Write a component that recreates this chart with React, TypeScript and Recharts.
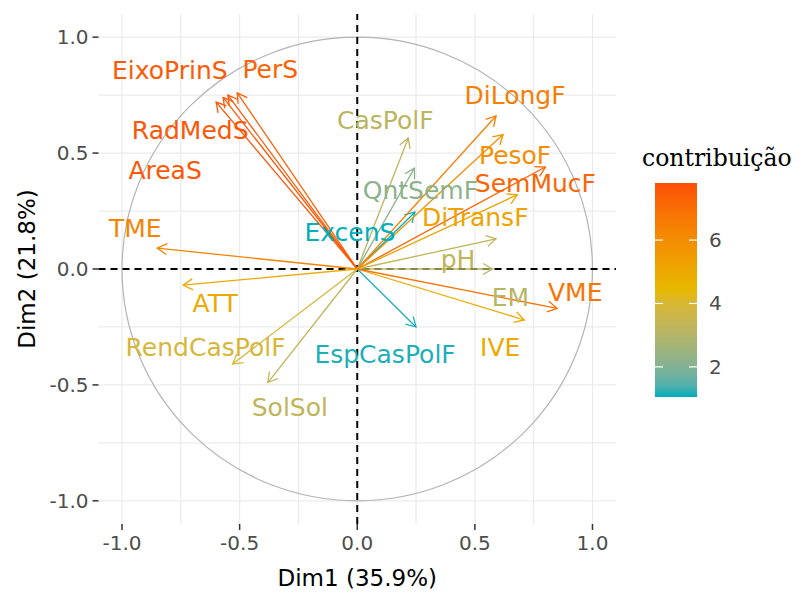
import React from "react";
import {
  ScatterChart,
  Scatter,
  XAxis,
  YAxis,
  CartesianGrid,
  ReferenceLine,
  ReferenceArea,
} from "recharts";

// PCA variable coordinates (Dim1, Dim2) and contribution
const variables = [
  "EixoPrinS", "PerS", "RadMedS", "AreaS", "TME", "ATT", "RendCasPolF", "SolSol",
  "EspCasPolF", "ExcenS", "CasPolF", "QntSemF", "DiLongF", "PesoF", "SemMucF",
  "DiTransF", "pH", "EM", "IVE", "VME",
];
const dim1 = [-0.55, -0.51, -0.57, -0.6, -0.85, -0.74, -0.53, -0.38, 0.25, 0.245, 0.217, 0.243, 0.59, 0.62, 0.8, 0.68, 0.59, 0.575, 0.71, 0.85];
const dim2 = [0.75, 0.76, 0.74, 0.72, 0.09, -0.07, -0.41, -0.49, -0.25, 0.245, 0.565, 0.435, 0.66, 0.58, 0.44, 0.32, 0.13, 0.0, -0.22, -0.17];
const contrib = [7.5, 7.3, 7.6, 7.6, 6.3, 5.0, 3.9, 3.3, 1.1, 1.05, 3.2, 2.2, 6.5, 5.9, 7.2, 5.2, 3.3, 3.1, 5.0, 6.8];

const axisTicks = [-1, -0.5, 0, 0.5, 1];
const gridValues = [-1, -0.75, -0.5, -0.25, 0, 0.25, 0.5, 0.75, 1];
const legendTicks = [2, 4, 6];
const contribMin = 1.05;
const contribMax = 7.8;
const gradientCols = ["#00AFBB", "#E7B800", "#FC4E07"];

// label displacement in pixels (repel result), same order as variables
const labelShift: [number, number][] = [
  [-58, -25], [33, -23], [-33, 33], [-51, 68], [-22, -20], [32, 18], [-27, -17], [22, 25],
  [-31, 28], [-65, 20], [-23, -18], [6, 22], [19, -21], [12, 21], [-10, 16],
  [-42, 23], [-38, 21], [18, 28], [-24, 27], [18, -16],
];

// --- colour ramp in Lab, like ggplot's gradientn
const toLin = (c: number) => (c <= 0.04045 ? c / 12.92 : Math.pow((c + 0.055) / 1.055, 2.4));
const fromLin = (c: number) => (c <= 0.0031308 ? 12.92 * c : 1.055 * Math.pow(c, 1 / 2.4) - 0.055);
const f = (t: number) => (t > 0.008856 ? Math.cbrt(t) : 7.787 * t + 16 / 116);
const finv = (t: number) => (t > 0.206893 ? t * t * t : (t - 16 / 116) / 7.787);
const Xn = 0.95047, Zn = 1.08883;

function hexToLab(hex: string) {
  const r = toLin(parseInt(hex.slice(1, 3), 16) / 255);
  const g = toLin(parseInt(hex.slice(3, 5), 16) / 255);
  const b = toLin(parseInt(hex.slice(5, 7), 16) / 255);
  const X = 0.4124 * r + 0.3576 * g + 0.1805 * b;
  const Y = 0.2126 * r + 0.7152 * g + 0.0722 * b;
  const Z = 0.0193 * r + 0.1192 * g + 0.9505 * b;
  const fx = f(X / Xn), fy = f(Y), fz = f(Z / Zn);
  return [116 * fy - 16, 500 * (fx - fy), 200 * (fy - fz)];
}

function labToHex([L, a, bb]: number[]) {
  const fy = (L + 16) / 116;
  const X = Xn * finv(fy + a / 500);
  const Y = finv(fy);
  const Z = Zn * finv(fy - bb / 200);
  const r = 3.2406 * X - 1.5372 * Y - 0.4986 * Z;
  const g = -0.9689 * X + 1.8758 * Y + 0.0415 * Z;
  const b = 0.0557 * X - 0.204 * Y + 1.057 * Z;
  const h = (v: number) =>
    Math.round(Math.min(1, Math.max(0, fromLin(v))) * 255).toString(16).padStart(2, "0");
  return "#" + h(r) + h(g) + h(b);
}

const labs = gradientCols.map(hexToLab);
function colorFor(v: number) {
  let t = (v - contribMin) / (contribMax - contribMin);
  t = Math.min(1, Math.max(0, t)) * (labs.length - 1);
  const i = Math.min(labs.length - 2, Math.floor(t));
  const u = t - i;
  return labToHex(labs[i].map((c, k) => c + (labs[i + 1][k] - c) * u));
}

const rows = variables.map((name, i) => ({
  name,
  x: dim1[i],
  y: dim2[i],
  color: colorFor(contrib[i]),
  dx: labelShift[i][0],
  dy: labelShift[i][1],
}));

const SANS = "'DejaVu Sans', sans-serif";

const Arrow = (props: any) => {
  const { x1, y1, x2, y2, stroke } = props;
  const ang = Math.atan2(y2 - y1, x2 - x1);
  const len = 11;
  const sp = Math.PI / 6;
  const p1 = [x2 - len * Math.cos(ang - sp), y2 - len * Math.sin(ang - sp)];
  const p2 = [x2 - len * Math.cos(ang + sp), y2 - len * Math.sin(ang + sp)];
  return (
    <g>
      <line x1={x1} y1={y1} x2={x2} y2={y2} stroke={stroke} strokeWidth={1.3} />
      <polyline
        points={`${p1[0]},${p1[1]} ${x2},${y2} ${p2[0]},${p2[1]}`}
        fill="none"
        stroke={stroke}
        strokeWidth={1.3}
      />
    </g>
  );
};

const UnitCircle = (props: any) => {
  const { x, y, width, height } = props;
  return (
    <ellipse
      cx={x + width / 2}
      cy={y + height / 2}
      rx={width / 2}
      ry={height / 2}
      fill="none"
      stroke="#B3B3B3"
      strokeWidth={1.2}
    />
  );
};

const VarLabel = (props: any) => {
  const { cx, cy, payload } = props;
  return (
    <text
      x={cx + payload.dx}
      y={cy + payload.dy}
      textAnchor="middle"
      dominantBaseline="central"
      fill={payload.color}
      fontFamily={SANS}
      fontSize={25}
    >
      {payload.name}
    </text>
  );
};

function ColorLegend() {
  const top = 183;
  const bottom = 397;
  const left = 655;
  const w = 42;
  const yOf = (v: number) => bottom - ((v - contribMin) / (contribMax - contribMin)) * (bottom - top);
  const stops = Array.from({ length: 21 }, (_, i) => i / 20);
  return (
    <svg width={807} height={597} style={{ position: "absolute", left: 0, top: 0, pointerEvents: "none" }}>
      <defs>
        <linearGradient id="contribGrad" x1="0" y1="1" x2="0" y2="0">
          {stops.map((s) => (
            <stop key={s} offset={s} stopColor={colorFor(contribMin + s * (contribMax - contribMin))} />
          ))}
        </linearGradient>
      </defs>
      <text x={642} y={166} fontFamily="'DejaVu Serif', serif" fontSize={23.5} fill="#000">
        contribuição
      </text>
      <rect x={left} y={top} width={w} height={bottom - top} fill="url(#contribGrad)" />
      {legendTicks.map((t) => (
        <g key={t}>
          <line x1={left} x2={left + 8} y1={yOf(t)} y2={yOf(t)} stroke="#fff" strokeWidth={1.2} />
          <line x1={left + w - 8} x2={left + w} y1={yOf(t)} y2={yOf(t)} stroke="#fff" strokeWidth={1.2} />
          <text x={left + w + 12} y={yOf(t)} dominantBaseline="central" fontFamily={SANS} fontSize={20} fill="#4D4D4D">
            {t}
          </text>
        </g>
      ))}
    </svg>
  );
}

export default function App() {
  const tickStyle = { fontSize: 20, fill: "#4D4D4D", fontFamily: SANS };
  return (
    <div style={{ position: "relative", width: 807, height: 597, background: "#fff" }}>
      <style>{"body{margin:0}"}</style>
      <ScatterChart width={807} height={597} margin={{ top: 14, right: 191, bottom: 0, left: 0 }}>
        <CartesianGrid
          stroke="#EBEBEB"
          strokeWidth={1.2}
          horizontalValues={gridValues}
          verticalValues={gridValues}
        />
        <XAxis
          type="number"
          dataKey="x"
          domain={[-1.1, 1.1]}
          ticks={axisTicks}
          tickFormatter={(v) => Number(v).toFixed(1)}
          axisLine={false}
          tickLine={{ stroke: "#333", strokeWidth: 1.5 }}
          tickSize={6}
          tickMargin={6}
          tick={tickStyle}
          height={73}
          label={(p: any) => {
            const vb = p.viewBox;
            return (
              <text x={vb.x + vb.width / 2} y={vb.y + 62} textAnchor="middle" fontFamily={SANS} fontSize={23} fill="#000">
                Dim1 (35.9%)
              </text>
            );
          }}
        />
        <YAxis
          type="number"
          dataKey="y"
          domain={[-1.1, 1.1]}
          ticks={axisTicks}
          tickFormatter={(v) => Number(v).toFixed(1)}
          axisLine={false}
          tickLine={{ stroke: "#333", strokeWidth: 1.5 }}
          tickSize={6}
          tickMargin={4}
          tick={tickStyle}
          width={98.5}
          label={(p: any) => {
            const vb = p.viewBox;
            const cy = vb.y + vb.height / 2;
            return (
              <text
                x={27}
                y={cy}
                transform={`rotate(-90, 27, ${cy})`}
                textAnchor="middle"
                dominantBaseline="central"
                fontFamily={SANS}
                fontSize={23}
                fill="#000"
              >
                Dim2 (21.8%)
              </text>
            );
          }}
        />
        <ReferenceArea x1={-1} x2={1} y1={-1} y2={1} shape={UnitCircle} ifOverflow="visible" />
        <ReferenceLine x={0} stroke="#000" strokeWidth={2} strokeDasharray="7 5" />
        <ReferenceLine y={0} stroke="#000" strokeWidth={2} strokeDasharray="7 5" />
        {rows.map((r) => (
          <ReferenceLine
            key={r.name}
            segment={[{ x: 0, y: 0 }, { x: r.x, y: r.y }]}
            stroke={r.color}
            shape={Arrow}
            ifOverflow="visible"
          />
        ))}
        <Scatter data={rows} shape={VarLabel} isAnimationActive={false} />
      </ScatterChart>
      <ColorLegend />
    </div>
  );
}
